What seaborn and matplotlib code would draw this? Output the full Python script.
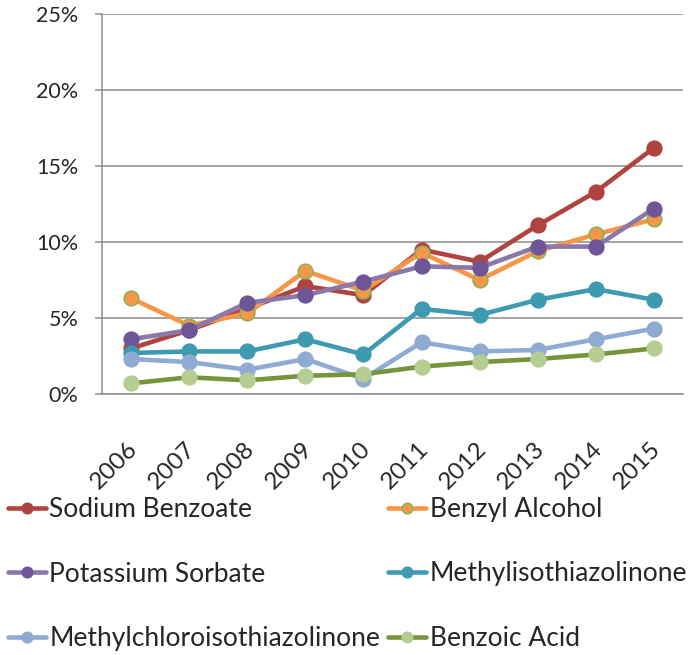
import matplotlib
matplotlib.use("Agg")
import matplotlib.pyplot as plt
import matplotlib.transforms as mtransforms
from matplotlib.ticker import FixedLocator, FuncFormatter
import seaborn as sns

years = [2006, 2007, 2008, 2009, 2010, 2011, 2012, 2013, 2014, 2015]

sodium_benzoate = [3.0, 4.2, 5.6, 7.1, 6.5, 9.5, 8.7, 11.1, 13.3, 16.2]
benzyl_alcohol = [6.3, 4.5, 5.3, 8.1, 6.8, 9.3, 7.5, 9.4, 10.5, 11.5]
potassium_sorbate = [3.6, 4.2, 6.0, 6.5, 7.4, 8.4, 8.3, 9.7, 9.7, 12.2]
methylisothiazolinone = [2.7, 2.8, 2.8, 3.6, 2.6, 5.6, 5.2, 6.2, 6.9, 6.2]
methylchloroisothiazolinone = [2.3, 2.1, 1.6, 2.3, 1.0, 3.4, 2.8, 2.9, 3.6, 4.3]
benzoic_acid = [0.7, 1.1, 0.9, 1.2, 1.3, 1.8, 2.1, 2.3, 2.6, 3.0]

series = [
    ("Sodium Benzoate", sodium_benzoate, "#B0433F", "#B0433F", "#B0433F"),
    ("Benzyl Alcohol", benzyl_alcohol, "#F79646", "#F79646", "#8DB255"),
    ("Potassium Sorbate", potassium_sorbate, "#8A78A8", "#6E5597", "#6E5597"),
    ("Methylisothiazolinone", methylisothiazolinone, "#3D9AB1", "#3D9AB1", "#3D9AB1"),
    ("Methylchloroisothiazolinone", methylchloroisothiazolinone, "#8FAAD3", "#8FAAD3", "#8FAAD3"),
    ("Benzoic Acid", benzoic_acid, "#77933C", "#B5CD92", "#B5CD92"),
]

sns.set_style("white")
plt.rcParams["font.family"] = ["Lato", "DejaVu Sans"]

fig = plt.figure(figsize=(6.98, 6.55), dpi=100)
ax = fig.add_axes([102 / 698, 1 - 394 / 655, (683 - 102) / 698, 380 / 655])

for name, vals, line_c, face_c, edge_c in series:
    sns.lineplot(x=years, y=vals, ax=ax, color=line_c, linewidth=3.3,
                 marker="o", markersize=10.5, markerfacecolor=face_c,
                 markeredgecolor=edge_c, markeredgewidth=1.2, label=name)

ax.set_xlim(2005.5, 2015.5)
ax.set_ylim(0, 25)
ax.yaxis.set_major_locator(FixedLocator([0, 5, 10, 15, 20, 25]))
ax.yaxis.set_major_formatter(FuncFormatter(lambda v, p: f"{v:.0f}%"))
ax.grid(axis="y", color="#8C8C8C", linewidth=1.1)
ax.set_axisbelow(True)

for s in ["top", "right"]:
    ax.spines[s].set_visible(False)
for s in ["left", "bottom"]:
    ax.spines[s].set_color("#8C8C8C")
    ax.spines[s].set_linewidth(1.1)

ax.set_xticks(years)
ax.set_xticks([y + 0.5 for y in [2005] + years], minor=True)
ax.set_xticklabels([str(y) for y in years], rotation=45, ha="right", va="top",
                   rotation_mode="anchor", fontsize=17.5)
ax.tick_params(axis="x", which="major", length=0, pad=32)
ax.tick_params(axis="x", which="minor", length=6.5, width=1.1, color="#8C8C8C", direction="out")
ax.tick_params(axis="y", length=5, width=1.1, color="#8C8C8C", direction="out", pad=12,
               labelsize=15.5, left=True)
offset = mtransforms.ScaledTranslation(-0.04, 0, fig.dpi_scale_trans)
for lab in ax.get_xticklabels():
    lab.set_transform(lab.get_transform() + offset)

ax.set_xlabel("")
ax.set_ylabel("")

# row-wise legend order like the original
handles, labels = ax.get_legend_handles_labels()
order = [0, 2, 4, 1, 3, 5]
ax.legend_.remove()
leg = fig.legend([handles[i] for i in order], [labels[i] for i in order], ncol=2,
                 loc="upper left", bbox_to_anchor=(0.0, 1 - 489 / 655),
                 frameon=False, fontsize=19, handlelength=1.45, handletextpad=0.12,
                 labelspacing=1.5, columnspacing=0.3, borderaxespad=0, borderpad=0.3)
for ln in leg.get_lines():
    ln.set_markersize(7.5)

fig.savefig("out.png", dpi=100)
